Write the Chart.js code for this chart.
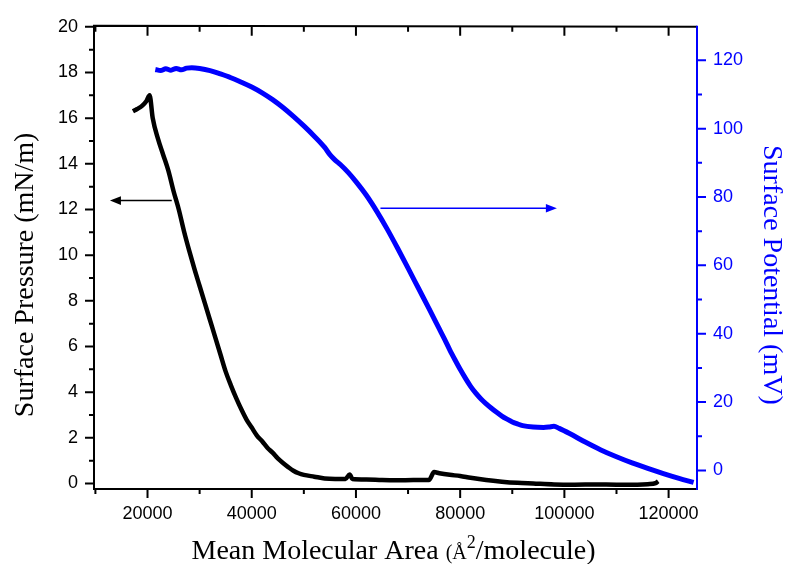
<!DOCTYPE html>
<html>
<head>
<meta charset="utf-8">
<script src="https://cdn.jsdelivr.net/npm/chart.js@4"></script>
<style>
  body { margin: 0; background: #fff; }
  #wrap { width: 786px; height: 564px; }
</style>
</head>
<body>
<div id="wrap"><canvas id="isotherm"></canvas></div>
<script>
// pressure isotherm (left axis)
const areaP = [17200, 18000, 19000, 19800, 20400, 21000, 22000, 23000, 24000, 25000, 26000, 27000, 28000, 29000,
  30000, 31000, 32000, 33000, 34000, 35000, 36000, 37000, 38000, 39000, 40000, 41000, 42000, 43000, 44000, 45000,
  46000, 47000, 48000, 49000, 50000, 52000, 54000, 56000, 58000, 58800, 59300, 62000, 65000, 68000, 71000, 74000,
  75000, 76000, 78000, 80000, 82000, 85000, 88000, 91000, 94000, 98000, 102000, 106000, 110000, 114000, 116000,
  117500, 118000]
const pressure = [16.3, 16.4, 16.55, 16.75, 17.0, 16.0, 15.1, 14.4, 13.7, 12.8, 12.0, 11.05, 10.2, 9.4,
  8.65, 7.9, 7.15, 6.4, 5.65, 4.9, 4.3, 3.75, 3.25, 2.8, 2.45, 2.1, 1.85, 1.57, 1.35, 1.1,
  0.9, 0.72, 0.56, 0.45, 0.38, 0.3, 0.22, 0.2, 0.2, 0.4, 0.2, 0.18, 0.15, 0.14, 0.15, 0.15,
  0.5, 0.45, 0.38, 0.33, 0.25, 0.15, 0.08, 0.03, 0.0, -0.04, -0.05, -0.04, -0.05, -0.05, -0.03,
  0.02, 0.1]

// surface potential (right axis)
const areaV = [21500, 22500, 23500, 24500, 25500, 26500, 27500, 28500, 30000, 32000, 34000, 36000, 38000, 40000,
  42000, 44000, 46000, 48000, 50000, 52000, 54000, 55000, 56000, 57000, 58500, 60000, 62000, 64000, 66000, 68000,
  70000, 72000, 74000, 76000, 77000, 78000, 79000, 80000, 81000, 82000, 83000, 84000, 85000, 86000, 87000, 88000,
  89000, 90000, 91000, 92000, 94000, 96000, 97000, 98000,
  99000, 101000, 104000, 107000, 110000, 113000, 116000, 119000, 122000, 124800]
const potential = [117.3, 117.0, 117.5, 117.1, 117.6, 117.2, 117.7, 117.8, 117.6, 117.0, 116.0, 114.9, 113.6, 112.2,
  110.5, 108.5, 106.2, 103.6, 100.8, 97.8, 94.5, 92.4, 90.8, 89.5, 87.2, 84.5, 80.5, 75.8, 70.6, 65.0,
  59.2, 53.3, 47.4, 41.4, 38.4, 35.3, 32.4, 29.6, 27.0, 24.6, 22.6, 20.9, 19.5, 18.2, 17.0, 15.9,
  15.0, 14.2, 13.6, 13.1, 12.7, 12.6, 12.7, 12.9,
  12.3, 10.8, 8.3, 6.0, 4.0, 2.2, 0.6, -0.9, -2.3, -3.5]

const xTicks = [20000, 40000, 60000, 80000, 100000, 120000]
const xMinor = [10000, 30000, 50000, 70000, 90000, 110000]
const leftTicks = [0, 2, 4, 6, 8, 10, 12, 14, 16, 18, 20]
const leftMinor = [1, 3, 5, 7, 9, 11, 13, 15, 17, 19]
const rightTicks = [0, 20, 40, 60, 80, 100, 120]
const rightMinor = [10, 30, 50, 70, 90, 110]

// arrows pointing each curve to its axis: [fromX, toX, y]
const arrowP = [24650, 12790, 12.39]
const arrowV = [64700, 98560, 76.7]

const BLUE = '#0000ff'
const tickFont = { family: '"Liberation Sans", Arial, sans-serif', size: 18 }

function arrow(ctx, x1, x2, y, color){
  const dir = x2 > x1 ? 1 : -1
  ctx.strokeStyle = color
  ctx.fillStyle = color
  ctx.lineWidth = 1.5
  ctx.beginPath()
  ctx.moveTo(x1, y)
  ctx.lineTo(x2 - dir*8, y)
  ctx.stroke()
  ctx.beginPath()
  ctx.moveTo(x2, y)
  ctx.lineTo(x2 - dir*11, y - 4.3)
  ctx.lineTo(x2 - dir*11, y + 4.3)
  ctx.closePath()
  ctx.fill()
}

const frame = {
  id: 'frame',
  afterDraw(chart){
    const ctx = chart.ctx
    const a = chart.chartArea
    const sx = chart.scales.x, sy = chart.scales.y, sv = chart.scales.y2
    ctx.save()
    ctx.lineWidth = 2
    ctx.strokeStyle = '#000'
    ctx.beginPath()
    ctx.moveTo(a.left, a.bottom); ctx.lineTo(a.left, a.top - 1); ctx.lineTo(a.right, a.top)
    ctx.moveTo(a.left - 1, a.bottom); ctx.lineTo(a.right, a.bottom)
    ctx.stroke()

    // x ticks, bottom outward and top inward
    ctx.beginPath()
    xTicks.concat(xMinor).forEach(v=>{
      const len = xTicks.includes(v) ? 9 : 5
      const p = sx.getPixelForValue(v)
      ctx.moveTo(p, a.bottom); ctx.lineTo(p, a.bottom + len)
      ctx.moveTo(p, a.top); ctx.lineTo(p, a.top + len)
    })
    leftTicks.concat(leftMinor).forEach(v=>{
      const len = leftTicks.includes(v) ? 9 : 5
      const p = sy.getPixelForValue(v)
      ctx.moveTo(a.left, p); ctx.lineTo(a.left - len, p)
    })
    ctx.stroke()

    ctx.strokeStyle = BLUE
    ctx.beginPath()
    ctx.moveTo(a.right, a.top - 1); ctx.lineTo(a.right, a.bottom + 1)
    rightTicks.concat(rightMinor).forEach(v=>{
      const len = rightTicks.includes(v) ? 9 : 5
      const p = sv.getPixelForValue(v)
      ctx.moveTo(a.right, p); ctx.lineTo(a.right + len, p)
    })
    ctx.stroke()

    arrow(ctx, sx.getPixelForValue(arrowP[0]), sx.getPixelForValue(arrowP[1]), sy.getPixelForValue(arrowP[2]), '#000')
    arrow(ctx, sx.getPixelForValue(arrowV[0]), sx.getPixelForValue(arrowV[1]), sv.getPixelForValue(arrowV[2]), BLUE)

    // axis titles
    const serif = '"Liberation Serif", "Times New Roman", serif'
    const midY = (a.top + a.bottom)/2 + 17
    ctx.textAlign = 'center'
    ctx.textBaseline = 'middle'
    ctx.font = '28px ' + serif
    ctx.fillStyle = '#000'
    ctx.save()
    ctx.translate(26, midY)
    ctx.rotate(-Math.PI/2)
    ctx.fillText('Surface Pressure (mN/m)', 0, 0)
    ctx.restore()
    ctx.fillStyle = BLUE
    ctx.save()
    ctx.translate(771, midY)
    ctx.rotate(Math.PI/2)
    ctx.fillText('Surface Potential (mV)', 0, 0)
    ctx.restore()

    const parts = [['Mean Molecular Area ', 28, 0], ['(Å', 20, 0], ['2', 18, -11], ['/molecule)', 28, 0]]
    let w = 0
    parts.forEach(p=>{ ctx.font = p[1] + 'px ' + serif; w += ctx.measureText(p[0]).width })
    let x = (a.left + a.right)/2 - 2 - w/2
    ctx.textAlign = 'left'
    ctx.textBaseline = 'alphabetic'
    ctx.fillStyle = '#000'
    parts.forEach(p=>{
      ctx.font = p[1] + 'px ' + serif
      ctx.fillText(p[0], x, 559 + p[2])
      x += ctx.measureText(p[0]).width
    })
    ctx.restore()
  }
}

new Chart(document.getElementById('isotherm'), {
  type: 'scatter',
  data: {
    datasets: [{
      label: 'Surface Pressure',
      data: areaP.map((x, i) => ({ x: x, y: pressure[i] })),
      yAxisID: 'y',
      showLine: true,
      borderColor: '#000',
      borderWidth: 4.5,
      pointRadius: 0,
      cubicInterpolationMode: 'monotone'
    }, {
      label: 'Surface Potential',
      data: areaV.map((x, i) => ({ x: x, y: potential[i] })),
      yAxisID: 'y2',
      showLine: true,
      borderColor: BLUE,
      borderWidth: 5,
      pointRadius: 0,
      cubicInterpolationMode: 'monotone'
    }]
  },
  options: {
    responsive: true,
    maintainAspectRatio: false,
    animation: false,
    layout: { padding: { top: 23, left: 0, right: 0, bottom: 0 } },
    plugins: {
      legend: { display: false },
      tooltip: { enabled: false }
    },
    scales: {
      x: {
        type: 'linear',
        position: 'bottom',
        min: 9730,
        max: 125450,
        afterBuildTicks: s => { s.ticks = xTicks.map(v => ({ value: v })) },
        afterFit: s => { s.height = 75 },
        ticks: { color: '#000', font: tickFont, padding: 14, maxRotation: 0, autoSkip: false, callback: v => String(v) },
        grid: { display: false, drawTicks: false },
        border: { display: false }
      },
      y: {
        position: 'left',
        min: -0.24,
        max: 20,
        afterBuildTicks: s => { s.ticks = leftTicks.map(v => ({ value: v })) },
        afterFit: s => { s.width = 94 },
        ticks: { color: '#000', font: tickFont, padding: 16, callback: v => String(v) },
        grid: { display: false, drawTicks: false },
        border: { display: false }
      },
      y2: {
        position: 'right',
        min: -5.43,
        max: 129.8,
        afterBuildTicks: s => { s.ticks = rightTicks.map(v => ({ value: v })) },
        afterFit: s => { s.width = 89 },
        ticks: { color: BLUE, font: tickFont, padding: 16, callback: v => String(v) },
        grid: { display: false, drawTicks: false },
        border: { display: false }
      }
    }
  },
  plugins: [frame]
})
</script>
</body>
</html>
